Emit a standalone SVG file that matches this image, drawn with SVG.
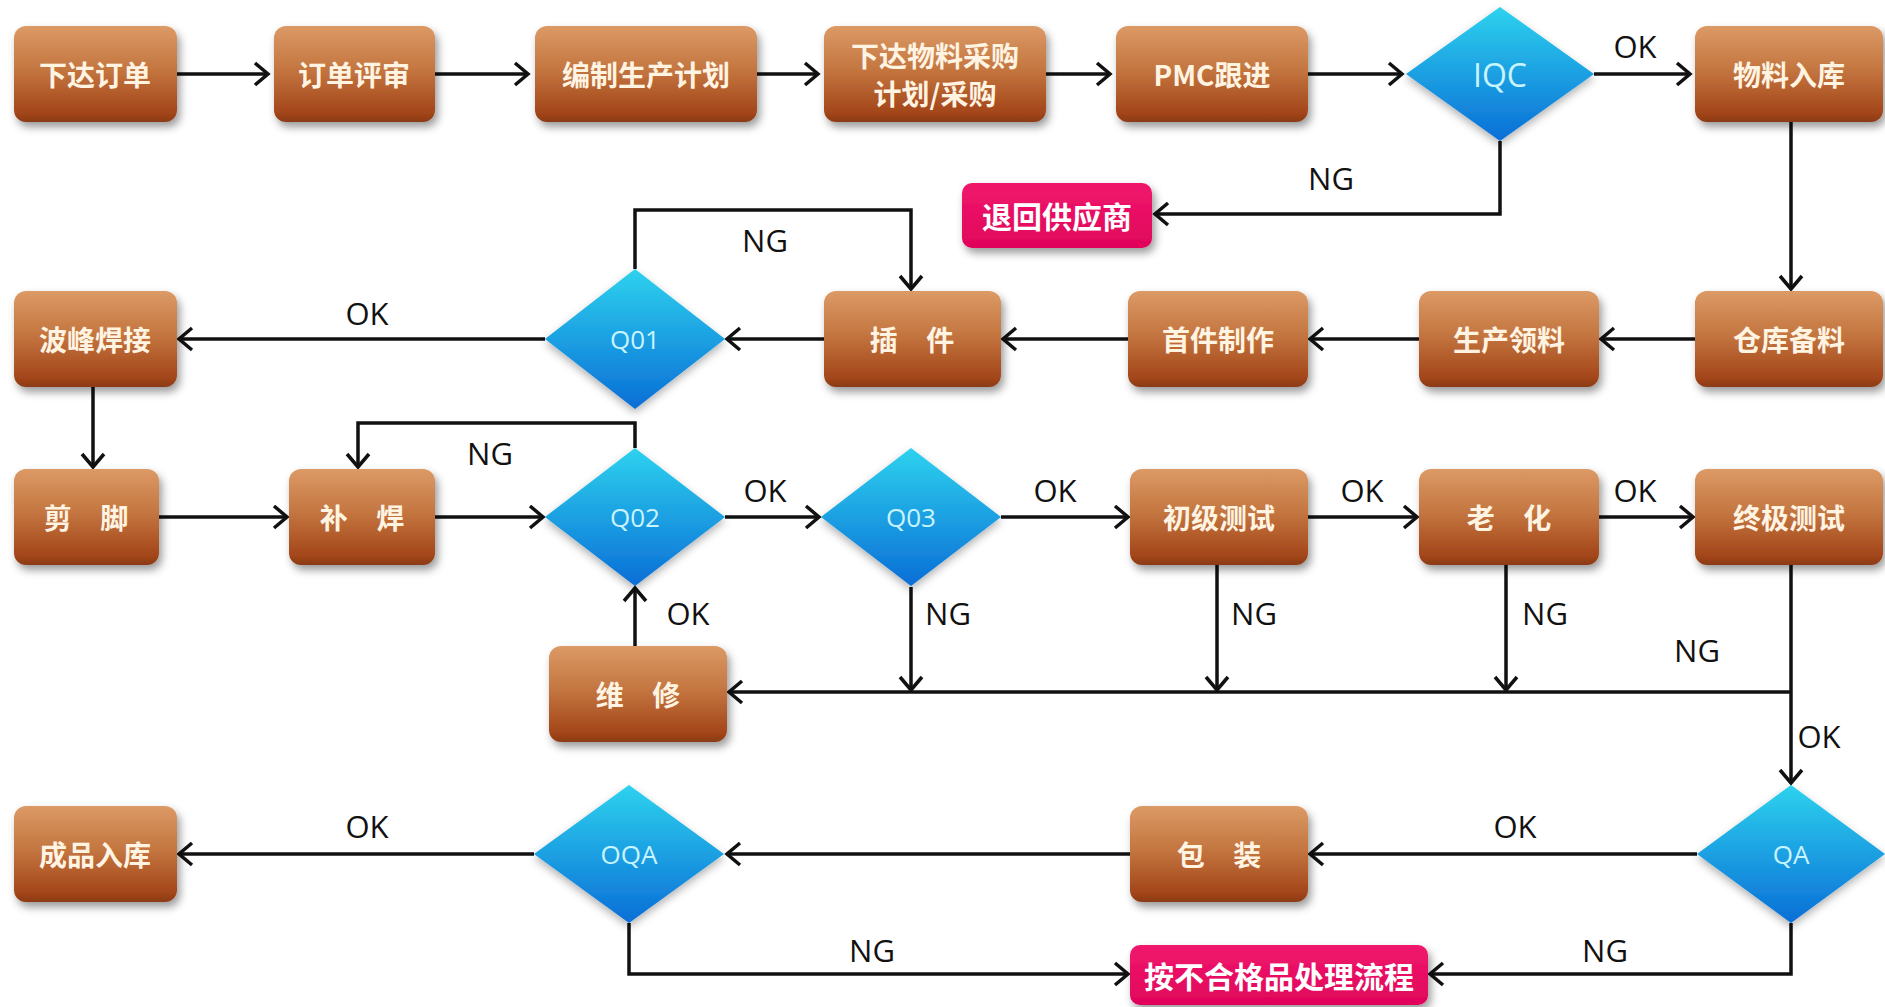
<svg xmlns="http://www.w3.org/2000/svg" width="1885" height="1007" viewBox="0 0 1885 1007">
<style>
.box{fill:url(#gBrown);filter:url(#sh)}
.pink{fill:url(#gPink);filter:url(#sh)}
.dia{fill:url(#gBlue);filter:url(#sh2)}
.bt{font-family:"Noto Sans CJK SC","Noto Sans CJK TC",sans-serif;font-weight:bold;font-size:28px;fill:#fff3e2;text-anchor:middle;dominant-baseline:central}
.pt{font-family:"Noto Sans CJK SC",sans-serif;font-weight:bold;font-size:30px;fill:#ffffff;text-anchor:middle;dominant-baseline:central}
.dt{font-family:"Open Sans","Noto Sans",sans-serif;font-size:26px;fill:#c8f4ff;text-anchor:middle;dominant-baseline:central}
.lb{font-family:"Open Sans","DejaVu Sans",sans-serif;font-size:31px;fill:#111;text-anchor:middle;dominant-baseline:central}
.c{fill:none;stroke:#111;stroke-width:3.5;marker-end:url(#ah)}
.cn{fill:none;stroke:#111;stroke-width:3.5}
</style>
<defs>
<linearGradient id="gBrown" x1="0" y1="0" x2="0" y2="1">
<stop offset="0" stop-color="#dc9a66"/>
<stop offset="0.45" stop-color="#c47640"/>
<stop offset="0.9" stop-color="#a4461a"/>
<stop offset="1" stop-color="#8a3a16"/>
</linearGradient>
<linearGradient id="gBlue" x1="0" y1="0" x2="0" y2="1">
<stop offset="0" stop-color="#2ed2ee"/>
<stop offset="1" stop-color="#0a6ed6"/>
</linearGradient>
<linearGradient id="gPink" x1="0" y1="0" x2="0" y2="1">
<stop offset="0" stop-color="#f0186c"/>
<stop offset="1" stop-color="#e0045a"/>
</linearGradient>
<filter id="sh" x="-20%" y="-20%" width="140%" height="150%">
<feDropShadow dx="3" dy="5" stdDeviation="4" flood-color="#000" flood-opacity="0.4"/>
</filter>
<filter id="sh2" x="-20%" y="-20%" width="140%" height="150%">
<feDropShadow dx="0" dy="4" stdDeviation="4" flood-color="#000" flood-opacity="0.3"/>
</filter>
<marker id="ah" viewBox="0 0 20 26" refX="17" refY="13" markerWidth="20" markerHeight="26" orient="auto" markerUnits="userSpaceOnUse">
<path d="M4,2 L17,13 L4,24" fill="none" stroke="#111" stroke-width="3.5"/>
</marker>
</defs>
<rect width="1885" height="1007" fill="#ffffff"/>

<g id="connectors">
<path class="c" d="M177,74 H268"/>
<path class="c" d="M435,74 H528"/>
<path class="c" d="M757,74 H818"/>
<path class="c" d="M1046,74 H1110"/>
<path class="c" d="M1308,74 H1402"/>
<path class="c" d="M1594,74 H1690"/>
<path class="c" d="M1500,141 V214 H1155"/>
<path class="c" d="M1791,122 V289"/>
<path class="c" d="M1695,339 H1601"/>
<path class="c" d="M1419,339 H1310"/>
<path class="c" d="M1128,339 H1003"/>
<path class="c" d="M824,339 H727"/>
<path class="c" d="M545,339 H179"/>
<path class="c" d="M635,269 V210 H911 V289"/>
<path class="c" d="M93,387 V467"/>
<path class="c" d="M159,517 H287"/>
<path class="c" d="M435,517 H543"/>
<path class="c" d="M725,517 H819"/>
<path class="c" d="M1001,517 H1128"/>
<path class="c" d="M1308,517 H1417"/>
<path class="c" d="M1599,517 H1693"/>
<path class="c" d="M635,448 V423 H358 V467"/>
<path class="c" d="M635,646 V588"/>
<path class="c" d="M1791,565 V783"/>
<path class="c" d="M1791,692 H729"/>
<path class="c" d="M911,587 V690"/>
<path class="c" d="M1217,565 V690"/>
<path class="c" d="M1506,565 V690"/>
<path class="c" d="M1697,854 H1310"/>
<path class="c" d="M1130,854 H727"/>
<path class="c" d="M534,854 H179"/>
<path class="c" d="M629,923 V974 H1128"/>
<path class="c" d="M1791,923 V974 H1430"/>
<text class="lb" x="1635" y="46">OK</text>
<text class="lb" x="1331" y="178">NG</text>
<text class="lb" x="367" y="313">OK</text>
<text class="lb" x="765" y="240">NG</text>
<text class="lb" x="765" y="490">OK</text>
<text class="lb" x="1055" y="490">OK</text>
<text class="lb" x="1362" y="490">OK</text>
<text class="lb" x="1635" y="490">OK</text>
<text class="lb" x="490" y="453">NG</text>
<text class="lb" x="688" y="613">OK</text>
<text class="lb" x="948" y="613">NG</text>
<text class="lb" x="1254" y="613">NG</text>
<text class="lb" x="1545" y="613">NG</text>
<text class="lb" x="1697" y="650">NG</text>
<text class="lb" x="1819" y="736">OK</text>
<text class="lb" x="1515" y="826">OK</text>
<text class="lb" x="367" y="826">OK</text>
<text class="lb" x="872" y="950">NG</text>
<text class="lb" x="1605" y="950">NG</text>
</g>

<g id="n1"><rect class="box" x="14" y="26" width="163" height="96" rx="12"/><text class="bt" x="95" y="74">下达订单</text></g>
<g id="n2"><rect class="box" x="274" y="26" width="161" height="96" rx="12"/><text class="bt" x="354" y="74">订单评审</text></g>
<g id="n3"><rect class="box" x="535" y="26" width="222" height="96" rx="12"/><text class="bt" x="646" y="74">编制生产计划</text></g>
<g id="n4"><rect class="box" x="824" y="26" width="222" height="96" rx="12"/><text class="bt" x="935" y="55">下达物料采购</text><text class="bt" x="935" y="93">计划/采购</text></g>
<g id="n5"><rect class="box" x="1116" y="26" width="192" height="96" rx="12"/><text class="bt" x="1212" y="74">PMC跟进</text></g>
<g id="n6"><polygon class="dia" points="1500,7 1594,74 1500,141 1406,74"/><text class="dt" x="1500" y="74" style="font-size:32px">IQC</text></g>
<g id="n7"><rect class="box" x="1695" y="26" width="188" height="96" rx="12"/><text class="bt" x="1789" y="74">物料入库</text></g>
<g id="n8"><rect class="pink" x="962" y="183" width="190" height="65" rx="10"/><text class="pt" x="1057" y="215">退回供应商</text></g>

<g id="n9"><rect class="box" x="1695" y="291" width="188" height="96" rx="12"/><text class="bt" x="1789" y="339">仓库备料</text></g>
<g id="n10"><rect class="box" x="1419" y="291" width="180" height="96" rx="12"/><text class="bt" x="1509" y="339">生产领料</text></g>
<g id="n11"><rect class="box" x="1128" y="291" width="180" height="96" rx="12"/><text class="bt" x="1218" y="339">首件制作</text></g>
<g id="n12"><rect class="box" x="824" y="291" width="177" height="96" rx="12"/><text class="bt" x="912" y="339" style="word-spacing:22px">插 件</text></g>
<g id="n13"><polygon class="dia" points="635,269 725,339 635,409 545,339"/><text class="dt" x="635" y="339">Q01</text></g>
<g id="n14"><rect class="box" x="14" y="291" width="163" height="96" rx="12"/><text class="bt" x="95" y="339">波峰焊接</text></g>

<g id="n15"><rect class="box" x="14" y="469" width="145" height="96" rx="12"/><text class="bt" x="86" y="517" style="word-spacing:22px">剪 脚</text></g>
<g id="n16"><rect class="box" x="289" y="469" width="146" height="96" rx="12"/><text class="bt" x="362" y="517" style="word-spacing:22px">补 焊</text></g>
<g id="n17"><polygon class="dia" points="635,448 725,517 635,586 545,517"/><text class="dt" x="635" y="517">Q02</text></g>
<g id="n18"><polygon class="dia" points="911,448 1001,517 911,586 821,517"/><text class="dt" x="911" y="517">Q03</text></g>
<g id="n19"><rect class="box" x="1130" y="469" width="178" height="96" rx="12"/><text class="bt" x="1219" y="517">初级测试</text></g>
<g id="n20"><rect class="box" x="1419" y="469" width="180" height="96" rx="12"/><text class="bt" x="1509" y="517" style="word-spacing:22px">老 化</text></g>
<g id="n21"><rect class="box" x="1695" y="469" width="188" height="96" rx="12"/><text class="bt" x="1789" y="517">终极测试</text></g>

<g id="n22"><rect class="box" x="549" y="646" width="178" height="96" rx="12"/><text class="bt" x="638" y="694" style="word-spacing:22px">维 修</text></g>

<g id="n23"><polygon class="dia" points="1791,785 1885,854 1791,923 1697,854"/><text class="dt" x="1791" y="854">QA</text></g>
<g id="n24"><rect class="box" x="1130" y="806" width="178" height="96" rx="12"/><text class="bt" x="1219" y="854" style="word-spacing:22px">包 装</text></g>
<g id="n25"><polygon class="dia" points="629,785 724,854 629,923 534,854"/><text class="dt" x="629" y="854">OQA</text></g>
<g id="n26"><rect class="box" x="14" y="806" width="163" height="96" rx="12"/><text class="bt" x="95" y="854">成品入库</text></g>
<g id="n27"><rect class="pink" x="1130" y="945" width="298" height="60" rx="10"/><text class="pt" x="1279" y="975">按不合格品处理流程</text></g>
</svg>
